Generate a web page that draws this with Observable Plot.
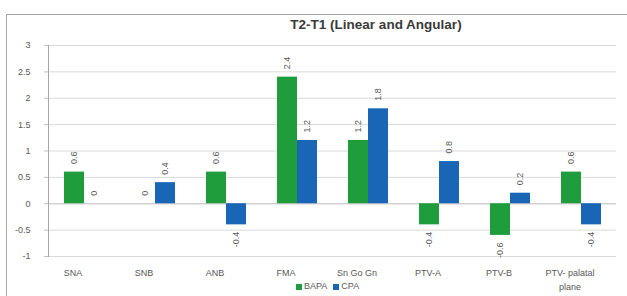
<!DOCTYPE html>
<html><head><meta charset="utf-8">
<script src="https://cdn.jsdelivr.net/npm/d3@7"></script>
<script src="https://cdn.jsdelivr.net/npm/@observablehq/plot@0.6"></script>
<style>
body{margin:0;background:#fff;}
#wrap{position:relative;width:627px;height:296px;overflow:hidden;font-family:"Liberation Sans",Arial,sans-serif;background:#fff;}
#frame{position:absolute;left:6px;top:14px;width:700px;height:400px;border:1px solid #a6a6a6;}
#title{position:absolute;left:0;width:752px;top:17px;text-align:center;font-weight:bold;font-size:13.5px;color:#3a3a3a;}
#chart{position:absolute;left:0;top:0;}
#legend{position:absolute;left:296px;top:281px;font-size:9px;color:#595959;white-space:nowrap;}
#legend span.sw{display:inline-block;width:6px;height:6px;margin-right:2px;vertical-align:middle;}
#legend span.it{margin-right:6px;}
</style>
</head><body>
<div id="wrap">
  <div id="frame"></div>
  <div id="title">T2-T1 (Linear and Angular)</div>
  <div id="chart"></div>
  <div id="legend"></div>
</div>
<script>
const categories = ["SNA", "SNB", "ANB", "FMA", "Sn Go Gn", "PTV-A", "PTV-B", "PTV- palatal plane"];
const bapa = [0.6, 0, 0.6, 2.4, 1.2, -0.4, -0.6, 0.6];
const cpa = [0, 0.4, -0.4, 1.2, 1.8, 0.8, 0.2, -0.4];
const series = ["BAPA", "CPA"];
const colors = ["#1f9d3c", "#1a66b6"];
const yTicks = [-1, -0.5, 0, 0.5, 1, 1.5, 2, 2.5, 3];

const rows = [];
categories.forEach((c, i) => {
  rows.push({cat: c, series: "BAPA", value: bapa[i]});
  rows.push({cat: c, series: "CPA", value: cpa[i]});
});

const fmt = d => String(d);
const txt = {fontSize: 9, fill: "#595959", fontFamily: "Liberation Sans, Arial, sans-serif"};

const chart = Plot.plot({
  width: 627, height: 296,
  marginTop: 45, marginBottom: 40, marginLeft: 46, marginRight: 9,
  style: {background: "transparent", fontFamily: "Liberation Sans, Arial, sans-serif"},
  fx: {domain: categories, padding: 0, label: null, axis: null},
  x: {domain: series, paddingInner: 0, paddingOuter: 0.74, axis: null},
  y: {domain: [-1, 3], label: null},
  color: {domain: series, range: colors},
  marks: [
    Plot.ruleY(yTicks, {stroke: "#d9d9d9", strokeWidth: 1}),
    Plot.ruleY([0], {stroke: "#c8c8c8", strokeWidth: 1}),
    Plot.barY(rows, {fx: "cat", x: "series", y: "value", fill: "series", inset: 0}),
    Plot.text(rows.filter(d => d.value >= 0), {fx: "cat", x: "series", y: "value", text: d => fmt(d.value),
      rotate: -90, textAnchor: "start", lineAnchor: "middle", dy: -8, ...txt}),
    Plot.text(rows.filter(d => d.value < 0), {fx: "cat", x: "series", y: "value", text: d => fmt(d.value),
      rotate: -90, textAnchor: "end", lineAnchor: "middle", dy: 7, ...txt}),
    Plot.axisY({ticks: yTicks, tickFormat: fmt, tickSize: 4, tickPadding: 14, stroke: "#bfbfbf", label: null, fontSize: 9, fill: "#595959"}),
    Plot.frame({anchor: "left", facetAnchor: "left", stroke: "#a6a6a6", strokeWidth: 1}),
    Plot.axisFx({anchor: "bottom", tickSize: 0, tickPadding: 10, label: null, dx: -11, lineHeight: 1.5,
      tickFormat: d => d === "PTV- palatal plane" ? "PTV- palatal\nplane" : d, fontSize: 9, fill: "#595959"})
  ]
});
document.getElementById("chart").appendChild(chart);

const leg = document.getElementById("legend");
series.forEach((s, i) => {
  const sw = document.createElement("span"); sw.className = "sw"; sw.style.background = colors[i];
  const it = document.createElement("span"); it.className = "it"; it.textContent = s;
  leg.appendChild(sw); leg.appendChild(it);
});
</script>
</body></html>
